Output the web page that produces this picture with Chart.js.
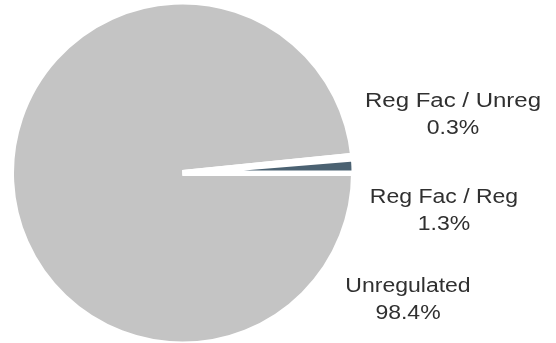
<!DOCTYPE html>
<html>
<head>
<meta charset="utf-8">
<script src="https://cdn.jsdelivr.net/npm/chart.js@4/dist/chart.umd.min.js"></script>
<style>
  html, body { margin: 0; padding: 0; background: #ffffff; }
  #wrap { width: 556px; height: 343px; position: relative; }
</style>
</head>
<body>
<div id="wrap"><canvas id="pie"></canvas></div>
<script>
// Share of facilities by regulatory status (percent)
const categories = ['Unregulated', 'Reg Fac / Unreg', 'Reg Fac / Reg'];
const shares = [98.4, 0.3, 1.3];
const sliceColors = ['#c4c4c4', '#ffffff', '#4b6272'];
const sliceBorders = [6, 6, 5];

// Where each two-line caption sits (centre x, baseline of first line)
const captionPlace = {
  'Reg Fac / Unreg': { x: 453, y: 107 },
  'Reg Fac / Reg':   { x: 444, y: 203 },
  'Unregulated':     { x: 408, y: 292 }
};

const captionPlugin = {
  id: 'sliceCaptions',
  afterDraw(chart) {
    const ctx = chart.ctx;
    ctx.save();
    ctx.fillStyle = '#303030';
    ctx.font = '20px "Liberation Sans", Arial, sans-serif';
    ctx.textAlign = 'center';
    ctx.textBaseline = 'alphabetic';
    categories.forEach((name, i) => {
      const p = captionPlace[name];
      const lines = [name, shares[i].toFixed(1) + '%'];
      lines.forEach((t, k) => {
        ctx.save();
        ctx.translate(p.x, p.y + k * 27);
        ctx.scale(k === 0 && name.length > 14 ? 1.2 : 1.15, 1);
        ctx.fillText(t, 0, 0);
        ctx.restore();
      });
    });
    ctx.restore();
  }
};

new Chart(document.getElementById('pie'), {
  type: 'pie',
  data: {
    labels: categories,
    datasets: [{
      data: shares,
      backgroundColor: sliceColors,
      borderColor: '#ffffff',
      borderWidth: sliceBorders,
      hoverOffset: 0
    }]
  },
  options: {
    responsive: true,
    maintainAspectRatio: false,
    animation: false,
    rotation: 90,
    radius: 171.5,
    layout: { padding: { left: 12, right: 203, top: 3, bottom: 0 } },
    plugins: {
      legend: { display: false },
      tooltip: { enabled: false }
    }
  },
  plugins: [captionPlugin]
});
</script>
</body>
</html>
